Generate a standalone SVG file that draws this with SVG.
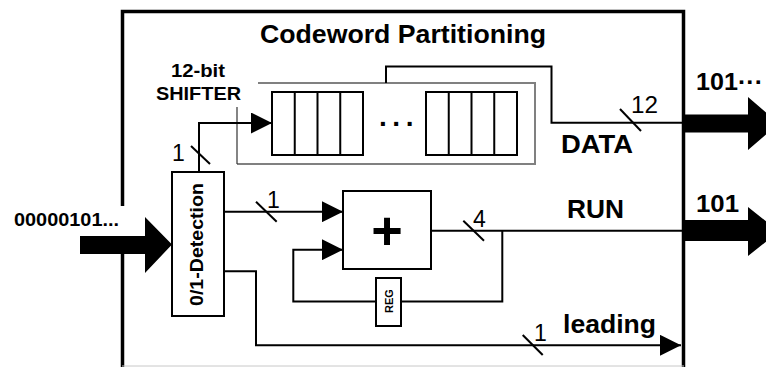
<svg xmlns="http://www.w3.org/2000/svg" width="766" height="367" viewBox="0 0 766 367">
  <style>
    .b { font-family: "Liberation Sans", Arial, sans-serif; font-weight: bold; fill: #000; }
    .r { font-family: "Liberation Sans", Arial, sans-serif; font-weight: normal; fill: #000; }
    .box { fill: #fff; stroke: #000; stroke-width: 2; }
    .wire { fill: none; stroke: #000; stroke-width: 2; }
    .tick { stroke: #000; stroke-width: 2; }
    .bus { fill: #000; stroke: none; }
  </style>
  <defs>
    <marker id="head" markerUnits="userSpaceOnUse" markerWidth="21" markerHeight="21" refX="21" refY="10.5" orient="auto">
      <path d="M0,0 L21,10.5 L0,21 Z" fill="#000"/>
    </marker>
  </defs>
  <rect width="766" height="367" fill="#fff"/>

  <!-- enclosing block -->
  <g id="partitioning">
    <path d="M122.5,206 V11.5 H683.5 V367" fill="none" stroke="#000" stroke-width="3.5"/>
    <line x1="122.5" y1="236" x2="122.5" y2="367" stroke="#000" stroke-width="3.5"/>
    <line x1="122" y1="366" x2="684" y2="366" stroke="#c8c8c8" stroke-width="1"/>
    <text class="b" x="260" y="43" font-size="26" textLength="286" lengthAdjust="spacingAndGlyphs">Codeword Partitioning</text>
  </g>

  <!-- 12-bit shifter -->
  <g id="shifter">
    <path d="M258,83 H535 V164 H237" fill="none" stroke="#808080" stroke-width="2"/>
    <line x1="237" y1="107" x2="237" y2="164" stroke="#333" stroke-width="1.2"/>
    <text class="b" x="171" y="77" font-size="18" textLength="54" lengthAdjust="spacingAndGlyphs">12-bit</text>
    <text class="b" x="156" y="100" font-size="18" textLength="85" lengthAdjust="spacingAndGlyphs">SHIFTER</text>
    <rect class="box" x="272" y="92" width="91" height="63"/>
    <path d="M294.75,92 V155 M317.5,92 V155 M340.25,92 V155" class="wire"/>
    <rect class="box" x="426" y="92" width="91" height="63"/>
    <path d="M448.75,92 V155 M471.5,92 V155 M494.25,92 V155" class="wire"/>
    <text class="b" x="379" y="133" font-size="28" letter-spacing="4">···</text>
  </g>

  <!-- 0/1 detection -->
  <g id="detection">
    <rect class="box" x="172" y="172" width="52" height="144"/>
    <text class="b" transform="translate(203,244.5) rotate(-90)" x="0" y="0" text-anchor="middle" font-size="18" textLength="123" lengthAdjust="spacingAndGlyphs">0/1-Detection</text>
  </g>

  <!-- adder -->
  <g id="adder">
    <rect class="box" x="343" y="191" width="88" height="78"/>
    <text class="b" x="387" y="249" text-anchor="middle" font-size="54">+</text>
  </g>

  <!-- register -->
  <g id="reg">
    <rect class="box" x="376" y="278" width="25" height="48"/>
    <text class="b" transform="translate(393,301) rotate(-90)" x="0" y="0" text-anchor="middle" font-size="11">REG</text>
  </g>

  <!-- input bus -->
  <g id="input">
    <text class="b" x="14" y="226" font-size="18" textLength="105" lengthAdjust="spacingAndGlyphs">00000101...</text>
    <path class="bus" d="M80,236 H145 V217 L172,244.5 L145,273 V254 H80 Z"/>
  </g>

  <!-- output buses -->
  <g id="out-data">
    <path class="bus" d="M685,114.5 H748 V97 L779,123.5 L748,150 V132.5 H685 Z"/>
    <text class="b" x="696" y="90" font-size="23" textLength="67" lengthAdjust="spacingAndGlyphs">101···</text>
  </g>
  <g id="out-run">
    <path class="bus" d="M685,220 H748 V207 L779,231.5 L748,256 V241 H685 Z"/>
    <text class="b" x="696" y="212" font-size="24" textLength="43" lengthAdjust="spacingAndGlyphs">101</text>
  </g>

  <!-- connectors -->
  <g id="connectors">
    <!-- detection to shifter -->
    <path class="wire" d="M199,172 V123 H272" marker-end="url(#head)"/>
    <line class="tick" x1="191" y1="146" x2="210" y2="164"/>
    <text class="r" x="172" y="160.5" font-size="23">1</text>

    <!-- shifter to DATA output -->
    <path class="wire" d="M386,83 V66.5 H551.5 V122.7 H683"/>
    <line class="tick" x1="620" y1="109" x2="641" y2="131"/>
    <text class="r" x="631" y="113" font-size="23" textLength="27" lengthAdjust="spacingAndGlyphs">12</text>
    <text class="b" x="561" y="153" font-size="25" textLength="72" lengthAdjust="spacingAndGlyphs">DATA</text>

    <!-- detection to adder -->
    <path class="wire" d="M224,211.7 H343" marker-end="url(#head)"/>
    <line class="tick" x1="256" y1="201.7" x2="276.7" y2="221.7"/>
    <text class="r" x="267" y="207.5" font-size="23">1</text>

    <!-- adder output, RUN -->
    <path class="wire" d="M431,230.7 H683"/>
    <line class="tick" x1="463.3" y1="220.7" x2="484" y2="240.7"/>
    <text class="r" x="473" y="226.5" font-size="23">4</text>
    <text class="b" x="567" y="218" font-size="25" textLength="57" lengthAdjust="spacingAndGlyphs">RUN</text>

    <!-- feedback through REG -->
    <path class="wire" d="M502.3,230.7 V301.5 H401"/>
    <path class="wire" d="M376,301.5 H293.3 V249.7 H343" marker-end="url(#head)"/>

    <!-- leading -->
    <path class="wire" d="M224,271.3 H256 V345.3 H681" marker-end="url(#head)"/>
    <line class="tick" x1="522.7" y1="335" x2="542.7" y2="355"/>
    <text class="r" x="534" y="341" font-size="23">1</text>
    <text class="b" x="563" y="333" font-size="25" textLength="93" lengthAdjust="spacingAndGlyphs">leading</text>
  </g>
</svg>
